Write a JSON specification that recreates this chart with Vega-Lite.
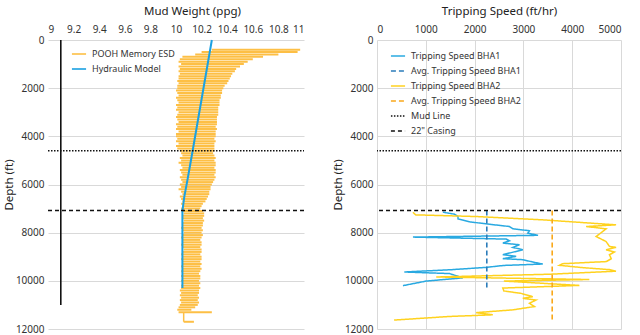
{
  "$schema": "https://vega.github.io/schema/vega-lite/v6.json",
  "padding": {"left": 3, "top": 5, "right": 3, "bottom": 0},
  "background": "white",
  "config": {
    "font": "Noto Sans, sans-serif",
    "view": {"stroke": null},
    "axis": {"domain": false, "ticks": false, "labelFontSize": 10, "titleFontSize": 11.5, "titleFontWeight": "normal", "labelColor": "#333", "titleColor": "#222", "gridColor": "#d9d9d9", "gridWidth": 1, "labelOverlap": false},
    "axisX": {"labelPadding": 6, "titlePadding": 8},
    "axisY": {"labelPadding": 4, "titleX": -34},
    "legend": {"symbolType": "stroke", "symbolSize": 200, "symbolStrokeWidth": 1.6, "labelFontSize": 9, "labelColor": "#333", "rowPadding": 2, "padding": 0, "labelOffset": 5}
  },
  "datasets": {
    "esd": [
      {"depth": 400, "mw": 10.28, "mw2": 10.97}, {"depth": 500, "mw": 10.2, "mw2": 10.95}, {"depth": 600, "mw": 10.15, "mw2": 10.8}, {"depth": 700, "mw": 10.05, "mw2": 10.68},
      {"depth": 800, "mw": 10.03, "mw2": 10.6}, {"depth": 900, "mw": 10.02, "mw2": 10.56}, {"depth": 1000, "mw": 10.04, "mw2": 10.53}, {"depth": 1100, "mw": 10.02, "mw2": 10.5},
      {"depth": 1200, "mw": 10.03, "mw2": 10.47}, {"depth": 1300, "mw": 10.02, "mw2": 10.46}, {"depth": 1400, "mw": 10.03, "mw2": 10.44}, {"depth": 1500, "mw": 10.02, "mw2": 10.43},
      {"depth": 1600, "mw": 10.02, "mw2": 10.42}, {"depth": 1700, "mw": 10.01, "mw2": 10.41}, {"depth": 1800, "mw": 10.02, "mw2": 10.4}, {"depth": 1900, "mw": 10.01, "mw2": 10.38},
      {"depth": 2000, "mw": 10.01, "mw2": 10.37}, {"depth": 2100, "mw": 10.0, "mw2": 10.36}, {"depth": 2200, "mw": 10.01, "mw2": 10.36}, {"depth": 2300, "mw": 10.02, "mw2": 10.35},
      {"depth": 2400, "mw": 10.0, "mw2": 10.35}, {"depth": 2500, "mw": 10.01, "mw2": 10.34}, {"depth": 2600, "mw": 10.02, "mw2": 10.34}, {"depth": 2700, "mw": 10.0, "mw2": 10.34},
      {"depth": 2800, "mw": 10.01, "mw2": 10.33}, {"depth": 2900, "mw": 10.0, "mw2": 10.33}, {"depth": 3000, "mw": 10.02, "mw2": 10.33}, {"depth": 3100, "mw": 10.01, "mw2": 10.33},
      {"depth": 3200, "mw": 10.0, "mw2": 10.32}, {"depth": 3300, "mw": 10.01, "mw2": 10.32}, {"depth": 3400, "mw": 10.02, "mw2": 10.32}, {"depth": 3500, "mw": 10.0, "mw2": 10.32},
      {"depth": 3600, "mw": 10.01, "mw2": 10.31}, {"depth": 3700, "mw": 10.0, "mw2": 10.32}, {"depth": 3800, "mw": 10.02, "mw2": 10.31}, {"depth": 3900, "mw": 10.0, "mw2": 10.31},
      {"depth": 4000, "mw": 10.0, "mw2": 10.31}, {"depth": 4100, "mw": 10.01, "mw2": 10.3}, {"depth": 4200, "mw": 10.0, "mw2": 10.31}, {"depth": 4300, "mw": 10.02, "mw2": 10.3},
      {"depth": 4400, "mw": 10.0, "mw2": 10.3}, {"depth": 4500, "mw": 10.01, "mw2": 10.3}, {"depth": 4600, "mw": 10.03, "mw2": 10.3}, {"depth": 4700, "mw": 10.04, "mw2": 10.29},
      {"depth": 4800, "mw": 10.05, "mw2": 10.3}, {"depth": 4900, "mw": 10.03, "mw2": 10.31}, {"depth": 5000, "mw": 10.04, "mw2": 10.3}, {"depth": 5100, "mw": 10.02, "mw2": 10.31},
      {"depth": 5200, "mw": 10.04, "mw2": 10.31}, {"depth": 5300, "mw": 10.05, "mw2": 10.3}, {"depth": 5400, "mw": 10.03, "mw2": 10.31}, {"depth": 5500, "mw": 10.04, "mw2": 10.31},
      {"depth": 5600, "mw": 10.05, "mw2": 10.3}, {"depth": 5700, "mw": 10.03, "mw2": 10.31}, {"depth": 5800, "mw": 10.04, "mw2": 10.3}, {"depth": 5900, "mw": 10.05, "mw2": 10.29},
      {"depth": 6000, "mw": 10.03, "mw2": 10.28}, {"depth": 6100, "mw": 10.04, "mw2": 10.27}, {"depth": 6200, "mw": 10.02, "mw2": 10.27}, {"depth": 6300, "mw": 10.04, "mw2": 10.26},
      {"depth": 6400, "mw": 10.05, "mw2": 10.26}, {"depth": 6500, "mw": 10.03, "mw2": 10.25}, {"depth": 6600, "mw": 10.04, "mw2": 10.24}, {"depth": 6700, "mw": 10.05, "mw2": 10.23},
      {"depth": 6800, "mw": 10.04, "mw2": 10.21}, {"depth": 6900, "mw": 10.05, "mw2": 10.2}, {"depth": 7000, "mw": 10.04, "mw2": 10.19}, {"depth": 7100, "mw": 10.05, "mw2": 10.21},
      {"depth": 7200, "mw": 10.06, "mw2": 10.22}, {"depth": 7300, "mw": 10.05, "mw2": 10.22}, {"depth": 7400, "mw": 10.05, "mw2": 10.21}, {"depth": 7500, "mw": 10.06, "mw2": 10.22},
      {"depth": 7600, "mw": 10.05, "mw2": 10.21}, {"depth": 7700, "mw": 10.05, "mw2": 10.21}, {"depth": 7800, "mw": 10.04, "mw2": 10.2}, {"depth": 7900, "mw": 10.05, "mw2": 10.21},
      {"depth": 8000, "mw": 10.06, "mw2": 10.2}, {"depth": 8100, "mw": 10.05, "mw2": 10.21}, {"depth": 8200, "mw": 10.04, "mw2": 10.2}, {"depth": 8300, "mw": 10.05, "mw2": 10.19},
      {"depth": 8400, "mw": 10.05, "mw2": 10.2}, {"depth": 8500, "mw": 10.04, "mw2": 10.2}, {"depth": 8600, "mw": 10.05, "mw2": 10.19}, {"depth": 8700, "mw": 10.06, "mw2": 10.2},
      {"depth": 8800, "mw": 10.05, "mw2": 10.2}, {"depth": 8900, "mw": 10.04, "mw2": 10.19}, {"depth": 9000, "mw": 10.05, "mw2": 10.2}, {"depth": 9100, "mw": 10.04, "mw2": 10.2},
      {"depth": 9200, "mw": 10.05, "mw2": 10.19}, {"depth": 9300, "mw": 10.05, "mw2": 10.2}, {"depth": 9400, "mw": 10.04, "mw2": 10.19}, {"depth": 9500, "mw": 10.05, "mw2": 10.2},
      {"depth": 9600, "mw": 10.04, "mw2": 10.19}, {"depth": 9700, "mw": 10.05, "mw2": 10.18}, {"depth": 9800, "mw": 10.04, "mw2": 10.19}, {"depth": 9900, "mw": 10.05, "mw2": 10.19},
      {"depth": 10000, "mw": 10.04, "mw2": 10.18}, {"depth": 10100, "mw": 10.05, "mw2": 10.19}, {"depth": 10200, "mw": 10.04, "mw2": 10.18}, {"depth": 10300, "mw": 10.04, "mw2": 10.19},
      {"depth": 10400, "mw": 10.03, "mw2": 10.18}, {"depth": 10500, "mw": 10.04, "mw2": 10.18}, {"depth": 10600, "mw": 10.03, "mw2": 10.17}, {"depth": 10700, "mw": 10.04, "mw2": 10.18},
      {"depth": 10800, "mw": 10.03, "mw2": 10.17}, {"depth": 10900, "mw": 10.04, "mw2": 10.18}, {"depth": 11000, "mw": 10.03, "mw2": 10.17}, {"depth": 11100, "mw": 10.02, "mw2": 10.15},
      {"depth": 11200, "mw": 10.01, "mw2": 10.12}, {"depth": 11300, "mw": 10.02, "mw2": 10.28}, {"depth": 11700, "mw": 10.06, "mw2": 10.14}
    ],
    "esdTail": [{"mw": 10.06, "depth": 11300, "depth2": 11700}],
    "hyd": [
      {"depth": 0, "mw": 10.28}, {"depth": 4600, "mw": 10.13}, {"depth": 5200, "mw": 10.11}, {"depth": 5800, "mw": 10.09},
      {"depth": 6500, "mw": 10.065}, {"depth": 7100, "mw": 10.05}, {"depth": 10300, "mw": 10.05}
    ],
    "well": [{"mw": 9.1, "depth": 0, "depth2": 11000}],
    "refs": [{"series": "Mud Line", "depth": 4600}, {"series": "22\" Casing", "depth": 7080}],
    "trip": [
      {"series": "Tripping Speed BHA1", "i": 1, "speed": 1350, "depth": 7150},
      {"series": "Tripping Speed BHA1", "i": 2, "speed": 1590, "depth": 7233},
      {"series": "Tripping Speed BHA1", "i": 3, "speed": 1660, "depth": 7330},
      {"series": "Tripping Speed BHA1", "i": 4, "speed": 1660, "depth": 7430},
      {"series": "Tripping Speed BHA1", "i": 5, "speed": 1900, "depth": 7550},
      {"series": "Tripping Speed BHA1", "i": 6, "speed": 2300, "depth": 7650},
      {"series": "Tripping Speed BHA1", "i": 7, "speed": 2715, "depth": 7745},
      {"series": "Tripping Speed BHA1", "i": 8, "speed": 2783, "depth": 7840},
      {"series": "Tripping Speed BHA1", "i": 9, "speed": 3124, "depth": 7920},
      {"series": "Tripping Speed BHA1", "i": 10, "speed": 3090, "depth": 8020},
      {"series": "Tripping Speed BHA1", "i": 11, "speed": 3300, "depth": 8110},
      {"series": "Tripping Speed BHA1", "i": 12, "speed": 737, "depth": 8184},
      {"series": "Tripping Speed BHA1", "i": 13, "speed": 2647, "depth": 8267},
      {"series": "Tripping Speed BHA1", "i": 14, "speed": 2715, "depth": 8336},
      {"series": "Tripping Speed BHA1", "i": 15, "speed": 2578, "depth": 8433},
      {"series": "Tripping Speed BHA1", "i": 16, "speed": 2920, "depth": 8502},
      {"series": "Tripping Speed BHA1", "i": 17, "speed": 2783, "depth": 8612},
      {"series": "Tripping Speed BHA1", "i": 18, "speed": 2988, "depth": 8709},
      {"series": "Tripping Speed BHA1", "i": 19, "speed": 2578, "depth": 8915},
      {"series": "Tripping Speed BHA1", "i": 20, "speed": 2851, "depth": 8984},
      {"series": "Tripping Speed BHA1", "i": 21, "speed": 2578, "depth": 9081},
      {"series": "Tripping Speed BHA1", "i": 22, "speed": 2988, "depth": 9122},
      {"series": "Tripping Speed BHA1", "i": 23, "speed": 3193, "depth": 9219},
      {"series": "Tripping Speed BHA1", "i": 24, "speed": 3397, "depth": 9302},
      {"series": "Tripping Speed BHA1", "i": 25, "speed": 2600, "depth": 9360},
      {"series": "Tripping Speed BHA1", "i": 26, "speed": 2238, "depth": 9441},
      {"series": "Tripping Speed BHA1", "i": 27, "speed": 1522, "depth": 9537},
      {"series": "Tripping Speed BHA1", "i": 28, "speed": 560, "depth": 9633},
      {"series": "Tripping Speed BHA1", "i": 29, "speed": 1487, "depth": 9699},
      {"series": "Tripping Speed BHA1", "i": 30, "speed": 1760, "depth": 9877},
      {"series": "Tripping Speed BHA1", "i": 31, "speed": 1009, "depth": 10010},
      {"series": "Tripping Speed BHA1", "i": 32, "speed": 532, "depth": 10200},
      {"series": "Tripping Speed BHA2", "i": 1, "speed": 737, "depth": 7150},
      {"series": "Tripping Speed BHA2", "i": 2, "speed": 790, "depth": 7261},
      {"series": "Tripping Speed BHA2", "i": 3, "speed": 2033, "depth": 7330},
      {"series": "Tripping Speed BHA2", "i": 4, "speed": 3397, "depth": 7468},
      {"series": "Tripping Speed BHA2", "i": 5, "speed": 4899, "depth": 7675},
      {"series": "Tripping Speed BHA2", "i": 6, "speed": 4285, "depth": 7745},
      {"series": "Tripping Speed BHA2", "i": 7, "speed": 4694, "depth": 7840},
      {"series": "Tripping Speed BHA2", "i": 8, "speed": 4626, "depth": 7950},
      {"series": "Tripping Speed BHA2", "i": 9, "speed": 4490, "depth": 8160},
      {"series": "Tripping Speed BHA2", "i": 10, "speed": 4694, "depth": 8367},
      {"series": "Tripping Speed BHA2", "i": 11, "speed": 4763, "depth": 8570},
      {"series": "Tripping Speed BHA2", "i": 12, "speed": 4899, "depth": 8612},
      {"series": "Tripping Speed BHA2", "i": 13, "speed": 4694, "depth": 8709},
      {"series": "Tripping Speed BHA2", "i": 14, "speed": 4865, "depth": 8805},
      {"series": "Tripping Speed BHA2", "i": 15, "speed": 4763, "depth": 8915},
      {"series": "Tripping Speed BHA2", "i": 16, "speed": 4800, "depth": 9081},
      {"series": "Tripping Speed BHA2", "i": 17, "speed": 4700, "depth": 9200},
      {"series": "Tripping Speed BHA2", "i": 18, "speed": 3806, "depth": 9288},
      {"series": "Tripping Speed BHA2", "i": 19, "speed": 3737, "depth": 9356},
      {"series": "Tripping Speed BHA2", "i": 20, "speed": 4200, "depth": 9450},
      {"series": "Tripping Speed BHA2", "i": 21, "speed": 4760, "depth": 9534},
      {"series": "Tripping Speed BHA2", "i": 22, "speed": 4897, "depth": 9600},
      {"series": "Tripping Speed BHA2", "i": 23, "speed": 3533, "depth": 9726},
      {"series": "Tripping Speed BHA2", "i": 24, "speed": 1214, "depth": 9840},
      {"series": "Tripping Speed BHA2", "i": 25, "speed": 4351, "depth": 9945},
      {"series": "Tripping Speed BHA2", "i": 26, "speed": 2600, "depth": 10010},
      {"series": "Tripping Speed BHA2", "i": 27, "speed": 4147, "depth": 10190},
      {"series": "Tripping Speed BHA2", "i": 28, "speed": 2578, "depth": 10300},
      {"series": "Tripping Speed BHA2", "i": 29, "speed": 2600, "depth": 10420},
      {"series": "Tripping Speed BHA2", "i": 30, "speed": 2950, "depth": 10520},
      {"series": "Tripping Speed BHA2", "i": 31, "speed": 3192, "depth": 10658},
      {"series": "Tripping Speed BHA2", "i": 32, "speed": 2987, "depth": 10726},
      {"series": "Tripping Speed BHA2", "i": 33, "speed": 3260, "depth": 10795},
      {"series": "Tripping Speed BHA2", "i": 34, "speed": 3124, "depth": 10932},
      {"series": "Tripping Speed BHA2", "i": 35, "speed": 3226, "depth": 11068},
      {"series": "Tripping Speed BHA2", "i": 36, "speed": 2783, "depth": 11205},
      {"series": "Tripping Speed BHA2", "i": 37, "speed": 2032, "depth": 11320},
      {"series": "Tripping Speed BHA2", "i": 38, "speed": 2373, "depth": 11411},
      {"series": "Tripping Speed BHA2", "i": 39, "speed": 1487, "depth": 11479},
      {"series": "Tripping Speed BHA2", "i": 40, "speed": 350, "depth": 11630}
    ],
    "avg": [
      {"series": "Avg. Tripping Speed BHA1", "speed": 2250, "depth": 7080, "depth2": 10280},
      {"series": "Avg. Tripping Speed BHA2", "speed": 3590, "depth": 7080, "depth2": 11650}
    ]
  },
  "resolve": {"scale": {"color": "independent", "strokeDash": "independent"}, "legend": {"color": "independent", "strokeDash": "independent"}},
  "spacing": 27,
  "hconcat": [
    {
      "width": 256,
      "height": 289,
      "encoding": {
        "x": {"field": "mw", "type": "quantitative", "scale": {"domain": [9, 11], "nice": false}, "axis": {"orient": "top", "title": "Mud Weight (ppg)", "titleX": 144, "values": [9, 9.2, 9.4, 9.6, 9.8, 10, 10.2, 10.4, 10.6, 10.8, 11], "format": "~f", "grid": false, "labelOverlap": false, "labelSeparation": 0, "labelBound": false}},
        "y": {"field": "depth", "type": "quantitative", "scale": {"domain": [0, 12000], "reverse": true, "nice": false}, "axis": {"title": "Depth (ft)", "values": [0, 2000, 4000, 6000, 8000, 10000, 12000], "format": "d", "grid": true}}
      },
      "layer": [
        {
          "data": {"name": "esd"},
          "mark": {"type": "rule", "strokeWidth": 2},
          "encoding": {
            "x2": {"field": "mw2"},
            "color": {"datum": "POOH Memory ESD", "type": "nominal", "scale": {"domain": ["POOH Memory ESD", "Hydraulic Model"], "range": ["#fdbf45", "#1ba1e2"]}, "legend": {"title": null, "orient": "none", "legendX": 23, "legendY": 6}}
          }
        },
        {
          "data": {"name": "esdTail"},
          "mark": {"type": "rule", "strokeWidth": 1.5, "color": "#fdbf45"},
          "encoding": {"y2": {"field": "depth2"}}
        },
        {
          "data": {"name": "hyd"},
          "mark": {"type": "line", "strokeWidth": 2},
          "encoding": {
            "order": {"field": "depth", "type": "quantitative"},
            "color": {"datum": "Hydraulic Model", "type": "nominal"}
          }
        },
        {
          "data": {"name": "well"},
          "mark": {"type": "rule", "strokeWidth": 1.6, "color": "#111"},
          "encoding": {"y2": {"field": "depth2"}}
        },
        {
          "data": {"name": "refs"},
          "mark": {"type": "rule", "strokeWidth": 1.4, "color": "#111"},
          "encoding": {
            "x": {"value": 0},
            "x2": {"value": 256},
            "strokeDash": {"field": "series", "type": "nominal", "scale": {"domain": ["Mud Line", "22\" Casing"], "range": [[1.5, 1.5], [4, 3]]}, "legend": null}
          }
        }
      ]
    },
    {
      "width": 244,
      "height": 289,
      "layer": [
        {
          "data": {"name": "trip"},
          "mark": {"type": "line", "strokeWidth": 1.5},
          "encoding": {
            "x": {"field": "speed", "type": "quantitative", "scale": {"domain": [0, 5000], "nice": false}, "axis": {"orient": "top", "title": "Tripping Speed (ft/hr)", "values": [0, 1000, 2000, 3000, 4000, 5000], "format": "d"}},
            "y": {"field": "depth", "type": "quantitative", "scale": {"domain": [0, 12000], "reverse": true, "nice": false}, "axis": {"title": "Depth (ft)", "values": [0, 2000, 4000, 6000, 8000, 10000, 12000], "format": "d"}},
            "order": {"field": "i", "type": "quantitative"},
            "color": {"field": "series", "type": "nominal", "scale": {"domain": ["Tripping Speed BHA1", "Avg. Tripping Speed BHA1", "Tripping Speed BHA2", "Avg. Tripping Speed BHA2", "Mud Line", "22\" Casing"], "range": ["#29a9e1", "#2b7cba", "#ffd21f", "#f9a81b", "#111111", "#111111"]}, "legend": {"title": null, "orient": "none", "legendX": 13, "legendY": 8}},
            "strokeDash": {"field": "series", "type": "nominal", "scale": {"domain": ["Tripping Speed BHA1", "Avg. Tripping Speed BHA1", "Tripping Speed BHA2", "Avg. Tripping Speed BHA2", "Mud Line", "22\" Casing"], "range": [[1, 0], [5, 3], [1, 0], [5, 3], [1.5, 1.5], [4, 3]]}, "legend": {"title": null, "orient": "none", "legendX": 13, "legendY": 8}}
          }
        },
        {
          "data": {"name": "avg"},
          "mark": {"type": "rule", "strokeWidth": 1.6},
          "encoding": {
            "x": {"field": "speed", "type": "quantitative"},
            "y": {"field": "depth", "type": "quantitative"},
            "y2": {"field": "depth2"},
            "color": {"field": "series", "type": "nominal"},
            "strokeDash": {"field": "series", "type": "nominal"}
          }
        },
        {
          "data": {"name": "refs"},
          "mark": {"type": "rule", "strokeWidth": 1.4},
          "encoding": {
            "y": {"field": "depth", "type": "quantitative"},
            "color": {"field": "series", "type": "nominal"},
            "strokeDash": {"field": "series", "type": "nominal"}
          }
        }
      ]
    }
  ]
}
